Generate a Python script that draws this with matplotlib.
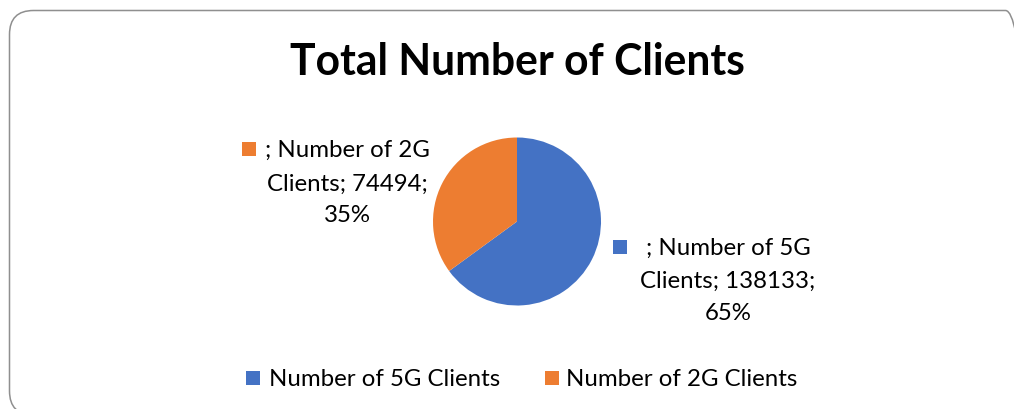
import matplotlib
matplotlib.use("Agg")
import matplotlib.pyplot as plt
from matplotlib.patches import FancyBboxPatch, Rectangle
from matplotlib.transforms import IdentityTransform

# ---- data ----
title = "Total Number of Clients"
categories = ["Number of 5G Clients", "Number of 2G Clients"]
values = [138133, 74494]
colors = ["#4472C4", "#ED7D31"]

W, H = 1014, 409
DPI = 100
plt.rcParams['font.family'] = ['Lato', 'DejaVu Sans']

fig = plt.figure(figsize=(W / DPI, H / DPI), dpi=DPI)
fig.patch.set_facecolor("white")
renderer = fig.canvas.get_renderer()

def px(x, y_top):
    """pixel (from top-left) -> figure fraction"""
    return x / W, 1 - y_top / H

def fit(t, width_px):
    w = t.get_window_extent(renderer).width
    t.set_fontsize(t.get_fontsize() * width_px / w)
    return t.get_fontsize()

# rounded border
border = FancyBboxPatch((9.5, -6), 1020, 409 - 10.5 + 6,
                        boxstyle="round,pad=0,rounding_size=24",
                        transform=IdentityTransform(), fill=False,
                        edgecolor="#8f8f8f", linewidth=1.1)
fig.add_artist(border)

# title
tt = fig.text(*px(517, 75), title, ha="center", va="baseline",
              fontsize=24, fontweight="bold", color="black")
fit(tt, 456)

# pie
cx, cy, r = 517, 221.5, 84
ax = fig.add_axes([(cx - r) / W, 1 - (cy + r) / H, 2 * r / W, 2 * r / H])
ax.pie(values, colors=colors, startangle=90, counterclock=False, radius=1)
ax.set_xlim(-1, 1)
ax.set_ylim(-1, 1)
ax.set_aspect("auto")
ax.axis("off")

# label font size from reference text width
probe = fig.text(0, 0, "Clients; 138133;", fontsize=15)
fs = fit(probe, 175)
probe.remove()

total = sum(values)
pcts = [round(v / total * 100) for v in values]

def label_lines(cat, val, pct):
    words = cat.split()
    return [f"; {' '.join(words[:-1])}", f"{words[-1]}; {val};", f"{pct}%"]

# data labels: (center x, baselines, square box)
label_layout = [
    (728, [255, 288, 320], (613, 240, 14)),   # 5G
    (347, [157, 191, 222], (242, 142, 14)),   # 2G
]
for i, (lx, bls, (sx, sy, ss)) in enumerate(label_layout):
    lines = label_lines(categories[i], values[i], pcts[i])
    for line, bl in zip(lines, bls):
        fig.text(*px(lx, bl), line, ha="center", va="baseline",
                 fontsize=fs, color="black")
    fig.add_artist(Rectangle(px(sx, sy + ss), ss / W, ss / H,
                             transform=fig.transFigure,
                             facecolor=colors[i], edgecolor="none"))

# legend
leg_layout = [(246, 269), (545, 566)]
for i, (sqx, tx) in enumerate(leg_layout):
    ss = 14
    fig.add_artist(Rectangle(px(sqx, 371 + ss), ss / W, ss / H,
                             transform=fig.transFigure,
                             facecolor=colors[i], edgecolor="none"))
    fig.text(*px(tx, 386), categories[i], ha="left", va="baseline",
             fontsize=fs, color="black")

fig.savefig("out.png", dpi=DPI)
